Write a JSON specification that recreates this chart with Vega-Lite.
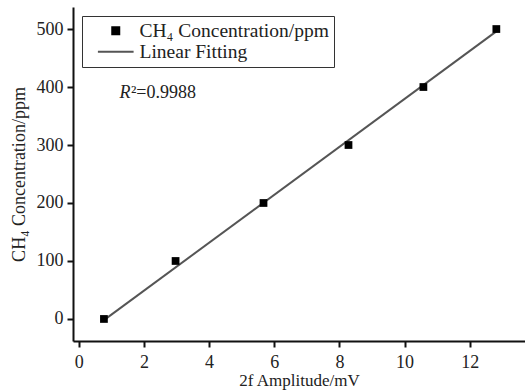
{
  "$schema": "https://vega.github.io/schema/vega-lite/v6.json",
  "width": 452,
  "height": 334,
  "autosize": "none",
  "padding": {"left": 73, "top": 7, "right": 0, "bottom": 51},
  "background": "white",
  "config": {
    "view": {"stroke": null},
    "font": "Liberation Serif",
    "axis": {
      "labelFont": "Liberation Serif",
      "titleFont": "Liberation Serif",
      "labelFontSize": 18,
      "titleFontSize": 17,
      "titleFontWeight": "normal",
      "labelColor": "#222",
      "titleColor": "#222",
      "domainColor": "#111",
      "domainWidth": 2,
      "tickColor": "#111",
      "tickWidth": 2,
      "grid": false
    },
    "legend": {
      "title": null,
      "orient": "none",
      "legendX": 9,
      "legendY": 9,
      "strokeColor": "#333",
      "padding": 5,
      "labelFont": "Liberation Serif",
      "labelFontSize": 19.5,
      "labelColor": "#222",
      "labelLimit": 0,
      "symbolSize": 49,
      "symbolStrokeWidth": 2,
      "symbolOffset": 19,
      "rowPadding": 0,
      "labelOffset": 14,
      "symbolOpacity": 1
    }
  },
  "datasets": {
    "pts": [
      {"amp": 0.77, "conc": 0, "series": "CH₄ Concentration/ppm"},
      {"amp": 2.97, "conc": 100, "series": "CH₄ Concentration/ppm"},
      {"amp": 5.67, "conc": 200, "series": "CH₄ Concentration/ppm"},
      {"amp": 8.28, "conc": 300, "series": "CH₄ Concentration/ppm"},
      {"amp": 10.58, "conc": 400, "series": "CH₄ Concentration/ppm"},
      {"amp": 12.82, "conc": 500, "series": "CH₄ Concentration/ppm"}
    ],
    "fit": [
      {"amp": 0.77, "conc": -2, "series": "Linear Fitting"},
      {"amp": 12.82, "conc": 496, "series": "Linear Fitting"}
    ],
    "noteR": [
      {"amp": 1.25, "conc": 390, "label": "R"}
    ],
    "noteV": [
      {"amp": 1.6, "conc": 390, "label": "²=0.9988"}
    ]
  },
  "layer": [
    {
      "data": {"name": "fit"},
      "mark": {"type": "line", "strokeWidth": 2},
      "encoding": {
        "x": {"field": "amp", "type": "quantitative",
          "scale": {"domain": [-0.18, 13.7], "nice": false, "zero": false},
          "axis": {
            "values": [0,1,2,3,4,5,6,7,8,9,10,11,12,13],
            "labelExpr": "datum.value % 2 === 0 ? datum.label : ''",
            "tickSize": {"condition": {"test": "datum.value % 2 === 1", "value": 3}, "value": 6},
            "labelPadding": 6,
            "title": "2f Amplitude/mV",
            "titlePadding": 1
          }},
        "y": {"field": "conc", "type": "quantitative",
          "scale": {"domain": [-38, 538], "nice": false, "zero": false},
          "axis": {
            "values": [0,50,100,150,200,250,300,350,400,450,500],
            "labelExpr": "datum.value % 100 === 0 ? datum.label : ''",
            "tickSize": {"condition": {"test": "datum.value % 100 !== 0", "value": 3}, "value": 6},
            "labelPadding": 4,
            "title": "CH₄ Concentration/ppm",
            "titleFontSize": 18,
            "titlePadding": 8
          }},
        "color": {"field": "series", "type": "nominal",
          "scale": {"domain": ["CH₄ Concentration/ppm", "Linear Fitting"], "range": ["#000000", "#555555"]},
          "legend": {
            "encode": {
              "symbols": {"update": {"stroke": {"scale": "color", "field": "value"}, "strokeWidth": {"value": 2}}}
            }
          }}
      }
    },
    {
      "data": {"name": "pts"},
      "mark": {"type": "point", "filled": true, "size": 60, "opacity": 1},
      "encoding": {
        "x": {"field": "amp", "type": "quantitative"},
        "y": {"field": "conc", "type": "quantitative"},
        "color": {"field": "series", "type": "nominal",
          "scale": {"domain": ["CH₄ Concentration/ppm", "Linear Fitting"], "range": ["#000000", "#555555"]}},
        "shape": {"field": "series", "type": "nominal",
          "scale": {"domain": ["CH₄ Concentration/ppm", "Linear Fitting"], "range": ["square", "M-5.1,0H5.1"]}}
      }
    },
    {
      "data": {"name": "noteR"},
      "mark": {"type": "text", "align": "left", "baseline": "middle", "font": "Liberation Serif", "fontSize": 18, "fontStyle": "italic", "color": "#222"},
      "encoding": {
        "x": {"field": "amp", "type": "quantitative"},
        "y": {"field": "conc", "type": "quantitative"},
        "text": {"field": "label"}
      }
    },
    {
      "data": {"name": "noteV"},
      "mark": {"type": "text", "align": "left", "baseline": "middle", "font": "Liberation Serif", "fontSize": 18, "color": "#222"},
      "encoding": {
        "x": {"field": "amp", "type": "quantitative"},
        "y": {"field": "conc", "type": "quantitative"},
        "text": {"field": "label"}
      }
    }
  ]
}
